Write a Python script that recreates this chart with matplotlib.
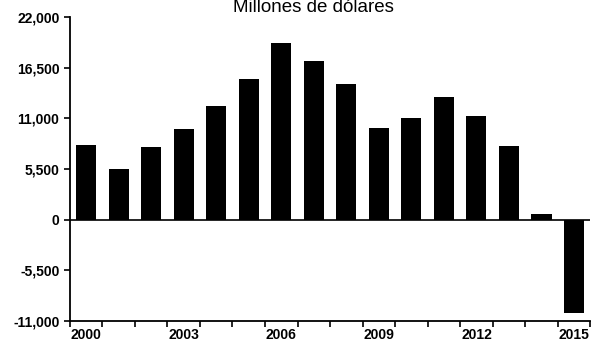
import matplotlib.pyplot as plt
import numpy as np

plt.rcParams['font.family'] = ['Liberation Sans', 'DejaVu Sans']

years = list(range(2000, 2016))
values = [8100, 5500, 7950, 9900, 12300, 15250, 19150, 17200, 14700,
          10000, 11100, 13300, 11300, 8050, 650, -10100]
yticks = [-11000, -5500, 0, 5500, 11000, 16500, 22000]
ylabels = ['-11,000', '-5,500', '0', '5,500', '11,000', '16,500', '22,000']
xlabel_years = [2000, 2003, 2006, 2009, 2012, 2015]

fig = plt.figure(figsize=(5.92, 3.43), dpi=100)
ax = fig.add_axes([0.118, 0.064, 0.879, 0.886])

x = np.arange(len(years))
ax.bar(x, values, width=0.62, color='black')
ax.axhline(0, color='black', lw=1.2)

ax.set_xlim(-0.5, len(years) - 0.5)
ax.set_ylim(-11000, 22000)

ax.set_yticks(yticks)
ax.set_yticklabels(ylabels, fontsize=10, fontweight='bold')

# ticks between categories, labels every three years
ax.set_xticks(np.arange(len(years) + 1) - 0.5)
ax.set_xticklabels([])
ax.set_xticks([years.index(y) for y in xlabel_years], minor=True)
ax.set_xticklabels([str(y) for y in xlabel_years], minor=True,
                   fontsize=10, fontweight='bold')
ax.tick_params(axis='x', which='minor', length=0, pad=5)
ax.tick_params(axis='x', which='major', length=4, width=1.2)
ax.tick_params(axis='y', length=4, width=1.2)

for s in ['top', 'right']:
    ax.spines[s].set_visible(False)
for s in ['left', 'bottom']:
    ax.spines[s].set_linewidth(1.3)

fig.text(313 / 592, 1 - 12 / 343, 'Millones de dólares', ha='center',
         va='baseline', fontsize=13.5)

fig.savefig('out.png', dpi=100)
